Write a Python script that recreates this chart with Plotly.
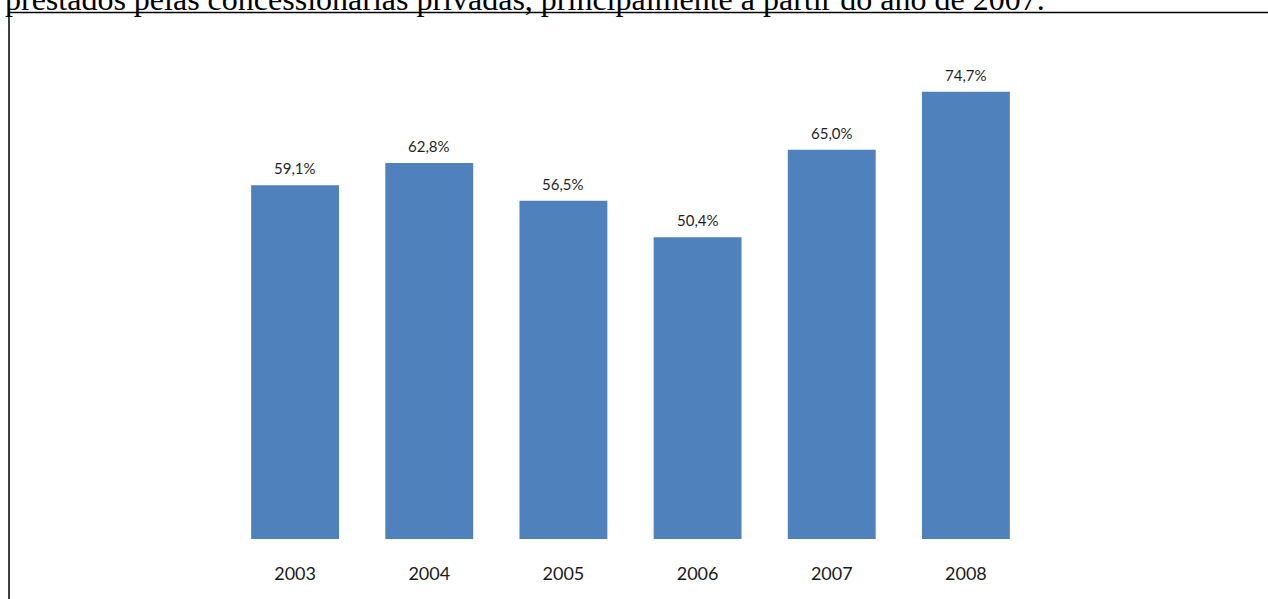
import plotly.graph_objects as go

# Share of services provided by private concessionaires, per year
anos = ["2003", "2004", "2005", "2006", "2007", "2008"]
percentuais = [59.1, 62.8, 56.5, 50.4, 65.0, 74.7]
rotulos = ["59,1%", "62,8%", "56,5%", "50,4%", "65,0%", "74,7%"]

texto_topo = "prestados pelas concessionárias privadas, principalmente a partir do ano de 2007."

W, H = 1268, 599
BAR_COLOR = "#4F81BD"
LABEL_FONT = "Lato, Carlito, Calibri, sans-serif"


def px_x(p):
    return p / W


def px_y(p):
    return 1 - p / H


fig = go.Figure()
fig.add_trace(go.Bar(
    x=anos,
    y=percentuais,
    marker=dict(color=BAR_COLOR, line=dict(width=0)),
    width=0.655,
    hoverinfo="skip",
))

# value labels above each bar (category axis positions given by index)
for i, (valor, rot) in enumerate(zip(percentuais, rotulos)):
    fig.add_annotation(
        x=i, y=valor, xref="x", yref="y",
        text=rot, showarrow=False,
        yanchor="middle", yshift=17,
        font=dict(family=LABEL_FONT, size=15, color="#1f1f1f"),
    )

# last line of the surrounding paragraph, clipped at the page top
fig.add_annotation(
    x=px_x(3), y=px_y(-1), xref="paper", yref="paper",
    text=texto_topo, showarrow=False,
    xanchor="left", yanchor="middle",
    font=dict(family="Liberation Serif, Times New Roman, serif", size=32, color="#000000"),
)

# frame around the chart (top and left edges)
fig.add_shape(type="line", xref="paper", yref="paper",
              x0=px_x(8), x1=px_x(W + 5), y0=px_y(12.5), y1=px_y(12.5),
              line=dict(color="#000000", width=1.5))
fig.add_shape(type="line", xref="paper", yref="paper",
              x0=px_x(9), x1=px_x(9), y0=px_y(12), y1=px_y(H + 5),
              line=dict(color="#000000", width=1.5))

fig.update_layout(
    width=W, height=H,
    margin=dict(l=0, r=0, t=0, b=0, pad=0, autoexpand=False),
    paper_bgcolor="#FFFFFF",
    plot_bgcolor="#FFFFFF",
    showlegend=False,
    xaxis=dict(
        type="category",
        domain=[px_x(228), px_x(1033)],
        range=[-0.5, 5.5],
        automargin=False,
        showgrid=False, zeroline=False, showline=False,
        ticks="", ticklabelstandoff=22,
        tickfont=dict(family=LABEL_FONT, size=18, color="#1a1a1a"),
        fixedrange=True,
    ),
    yaxis=dict(
        domain=[1 - 539 / H, 1 - 60 / H],
        range=[0, 80],
        automargin=False,
        showgrid=False, zeroline=False, showline=False,
        showticklabels=False, ticks="",
        fixedrange=True,
    ),
)

fig.write_html("out.html")
